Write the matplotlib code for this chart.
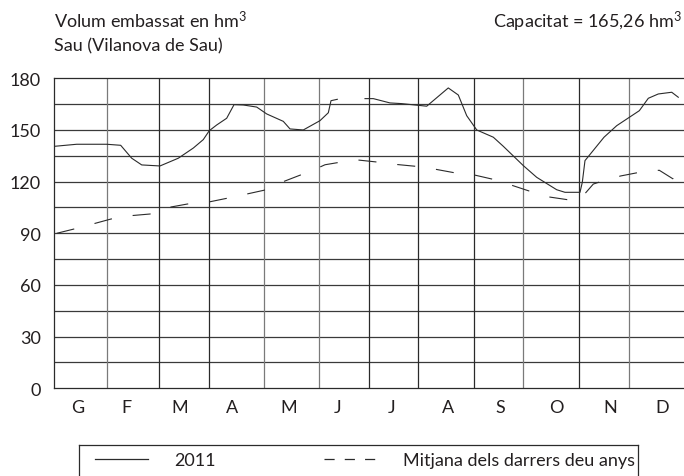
import matplotlib
matplotlib.use("Agg")
import matplotlib.pyplot as plt
from matplotlib.lines import Line2D
import numpy as np

# month axis in month units (0 = start of January, 12 = end of December)
MONTHS = ["G", "F", "M", "A", "M", "J", "J", "A", "S", "O", "N", "D"]
MONTH_POS = [0.45, 1.37, 2.39, 3.38, 4.47, 5.40, 6.43, 7.50, 8.50, 9.57, 10.60, 11.58]
GRID_X = [1.0, 2.0, 2.95, 4.0, 5.04, 6.0, 6.94, 8.0, 8.93, 10.0, 10.95]
GRID_X_DARK = [False, True, True, False, False, True, True, True, False, True, False]
Y_TICKS = [0, 30, 60, 90, 120, 150, 180]
Y_GRID = [15, 30, 45, 60, 75, 90, 105, 120, 135, 150, 165]

# 2011 (gap around the end of June)
X_2011 = [0.000, 0.427, 0.999, 1.265, 1.475, 1.666, 2.014, 2.363, 2.649, 2.839,
          2.954, 3.095, 3.285, 3.425, 3.602, 3.857, 4.048, 4.364, 4.492, 4.745,
          5.063, 5.222, 5.273, 5.393, np.nan,
          5.921, 6.079, 6.397, 6.620, 7.097, 7.508, 7.699, 7.859, 8.050, 8.366,
          8.557, 8.938, 9.193, 9.574, 9.732, 10.018, 10.062, 10.113, 10.476,
          10.718, 11.149, 11.320, 11.510, 11.766, 11.891]
Y_2011 = [140.5, 141.7, 141.7, 141.1, 133.6, 129.7, 129.1, 133.6, 139.5, 144.4,
          149.6, 152.9, 156.8, 164.7, 164.5, 163.3, 159.3, 155.0, 150.6, 150.0,
          155.4, 160.0, 167.0, 167.8, np.nan,
          168.2, 168.2, 165.7, 165.3, 163.8, 174.4, 170.3, 158.3, 150.0, 145.8,
          140.5, 129.3, 122.5, 115.3, 113.8, 113.8, 119.6, 132.2, 145.8,
          152.5, 161.2, 168.4, 170.9, 171.9, 169.0]

# mitjana dels darrers deu anys
X_MEAN = [0.046, 0.351, 0.732, 1.081, 1.443, 1.824, 2.192, 2.535, 2.916, 3.285,
          3.653, 3.996, 4.364, 4.696, 5.050, 5.159, 5.393, 5.774, 6.144, 6.512,
          6.887, 7.261, 7.617, 7.998, 8.355, 8.717, 9.065, 9.428, 9.784, 10.018,
          10.146, 10.272, 10.413, 10.794, 11.148, 11.529, 11.796, 11.810]
Y_MEAN = [90.0, 92.3, 95.4, 98.3, 100.2, 101.2, 105.1, 107.0, 108.0, 110.3,
          112.7, 115.0, 120.0, 123.9, 128.3, 129.8, 131.0, 132.6, 131.4, 130.0,
          128.9, 127.2, 125.2, 123.9, 121.4, 117.9, 114.4, 111.1, 109.5, 109.8,
          114.2, 118.6, 120.0, 123.3, 125.4, 126.6, 121.5, 120.2]

TXT = "#231f20"
LINE = "#2b2b2b"
plt.rcParams["font.family"] = ["Lato", "DejaVu Sans"]
plt.rcParams["mathtext.fontset"] = "custom"
plt.rcParams["mathtext.rm"] = "Lato"
plt.rcParams["mathtext.default"] = "regular"
plt.rcParams["lines.scale_dashes"] = False
FS = 13

W, H = 684, 477
fig = plt.figure(figsize=(W / 100, H / 100), dpi=100)
ax = fig.add_axes([54.3 / W, 1 - 389.3 / H, 1 - 54.3 / W, (389.3 - 79.3) / H])

ax.set_xlim(0, 12)
ax.set_ylim(0, 180)
for s in ["left", "bottom", "top"]:
    ax.spines[s].set_color(LINE)
    ax.spines[s].set_linewidth(0.9)
ax.spines["right"].set_visible(False)

ax.hlines(Y_GRID, 0, 12, color="#3a3a3a", lw=0.9, zorder=1)
for gx, dark in zip(GRID_X, GRID_X_DARK):
    ax.axvline(gx, color="#2a2a2a" if dark else "#7a7a7a", lw=0.9, zorder=1)

ax.plot(X_2011, Y_2011, color=LINE, lw=0.8, zorder=3)
ax.plot(X_MEAN, Y_MEAN, color=LINE, lw=0.8, linestyle=(0, (13.0, 15.1)), zorder=3)

ax.set_yticks(Y_TICKS)
ax.set_yticklabels([str(v) for v in Y_TICKS])
ax.set_xticks(MONTH_POS)
ax.set_xticklabels(MONTHS)
ax.tick_params(axis="y", length=0, pad=9.8, labelsize=FS, labelcolor=TXT)
ax.tick_params(axis="x", length=0, pad=7.5, labelsize=FS, labelcolor=TXT)

fig.text(54.3 / W, 1 - 28.3 / H, "Volum embassat en hm$^{3}$", fontsize=FS, color=TXT,
         va="baseline")
fig.text(54.3 / W, 1 - 51.7 / H, "Sau (Vilanova de Sau)", fontsize=FS, color=TXT, va="baseline")
fig.text(682 / W, 1 - 28.3 / H, "Capacitat = 165,26 hm$^{3}$", fontsize=FS, color=TXT,
         va="baseline", ha="right")

# legend box, open at the bottom edge of the image
lax = fig.add_axes([79 / W, 0, (638 - 79) / W, (477 - 446) / H])
lax.set_xticks([])
lax.set_yticks([])
lax.patch.set_alpha(0)
lax.spines["bottom"].set_visible(False)
for s in ["left", "top", "right"]:
    lax.spines[s].set_color(LINE)
    lax.spines[s].set_linewidth(0.9)
handles = [Line2D([], [], color=LINE, lw=0.9),
           Line2D([], [], color=LINE, lw=0.9, linestyle=(0, (7.3, 7.3)))]
lax.legend(handles, ["2011", "Mitjana dels darrers deu anys"], loc="center left",
           bbox_to_anchor=(16 / 559, 0.5), frameon=False, ncol=2, fontsize=FS,
           handlelength=2.93, handletextpad=1.44, columnspacing=6.0,
           borderpad=0, borderaxespad=0, labelcolor=TXT)

fig.savefig("out.png", dpi=100)
